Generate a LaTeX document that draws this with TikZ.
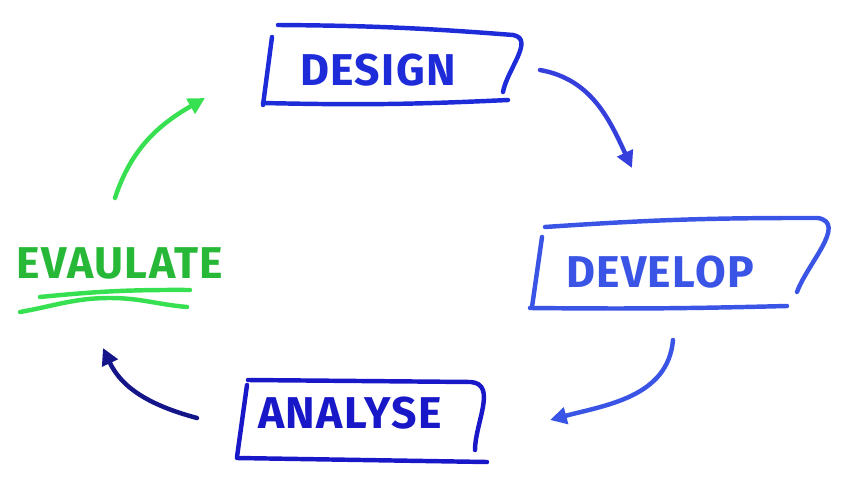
\documentclass[tikz,border=0pt]{standalone}
\usepackage{fontspec}
\setmainfont{Fira Sans}[LetterSpace=3]
\usetikzlibrary{arrows.meta, positioning, calc}
\definecolor{PenBlue}{HTML}{1E2BD8}
\definecolor{PenLight}{HTML}{3A55E6}
\definecolor{PenDeep}{HTML}{1818C8}
\definecolor{PenNavy}{HTML}{15158A}
\definecolor{PenGreen}{HTML}{26B836}
\definecolor{PenLime}{HTML}{36E050}

\tikzset{
    word/.style={font=\fontsize{38}{40}\selectfont\bfseries},
    pen/.style={line width=3.8pt, line cap=round, line join=round},
    flow/.style={pen, -{Triangle[length=5mm, width=5mm]}}
}

\begin{document}
\begin{tikzpicture}[x=0.03cm, y=-0.03cm]
    \useasboundingbox (0,0) rectangle (844,480);

    % Nodes
    \node (design) [word, text=PenBlue] at (378,70) {DESIGN};
    \node (develop) [word, text=PenLight] at (660,272) {DEVELOP};
    \node (analyse) [word, text=PenDeep] at (350,413) {ANALYSE};
    \node (evaluate) [word, text=PenGreen] at (120,263) {EVAULATE};

    % Boxes
    \begin{scope}[shift={(design)}, pen, PenBlue]
        \draw (-100,-45) to[bend left=2] (135,-35) to[out=-10, in=80] (125,22);
        \draw (-106,-33) -- (-115,35);
        \draw (-115,33) to[bend right=2] (130,30);
    \end{scope}
    \begin{scope}[shift={(develop)}, pen, PenLight]
        \draw (-115,-45) to[bend left=2] (158,-54) to[out=-10, in=70] (137,20);
        \draw (-118,-35) -- (-128,35);
        \draw (-130,36) to[bend right=1] (127,34);
    \end{scope}
    \begin{scope}[shift={(analyse)}, pen, PenDeep]
        \draw (-102,-33) -- (121,-31) to[out=-5, in=90] (125,37);
        \draw (-103,-28) -- (-113,44);
        \draw (-113,45) -- (137,49);
    \end{scope}
    \begin{scope}[shift={(evaluate)}, pen, PenLime]
        \draw (-80,34) to[bend left=3] (70,27);
        \draw (-100,49) to[out=10, in=180] (-10,35) to[out=0, in=175] (67,44);
    \end{scope}

    % Arrow ends
    \coordinate (d1) at ($(design)+(162,0)$);
    \coordinate (d2) at ($(develop)+(-28,-104)$);
    \coordinate (v1) at ($(develop)+(13,68)$);
    \coordinate (v2) at ($(analyse)+(200,7)$);
    \coordinate (a1) at ($(analyse)+(-153,5)$);
    \coordinate (a2) at ($(evaluate)+(-17,85)$);
    \coordinate (e1) at ($(evaluate)+(-5,-65)$);
    \coordinate (e2) at ($(design)+(-173,28)$);

    % Paths
    \draw[flow, PenBlue!90!white] (d1) to[out=-10, in=115] (d2);
    \draw[flow, PenLight] (v1) to[out=-95, in=15] (v2);
    \draw[flow, PenNavy] (a1) to[out=165, in=-65] (a2);
    \draw[flow, PenLime] (e1) to[out=72, in=-150] (e2);
\end{tikzpicture}
\end{document}
